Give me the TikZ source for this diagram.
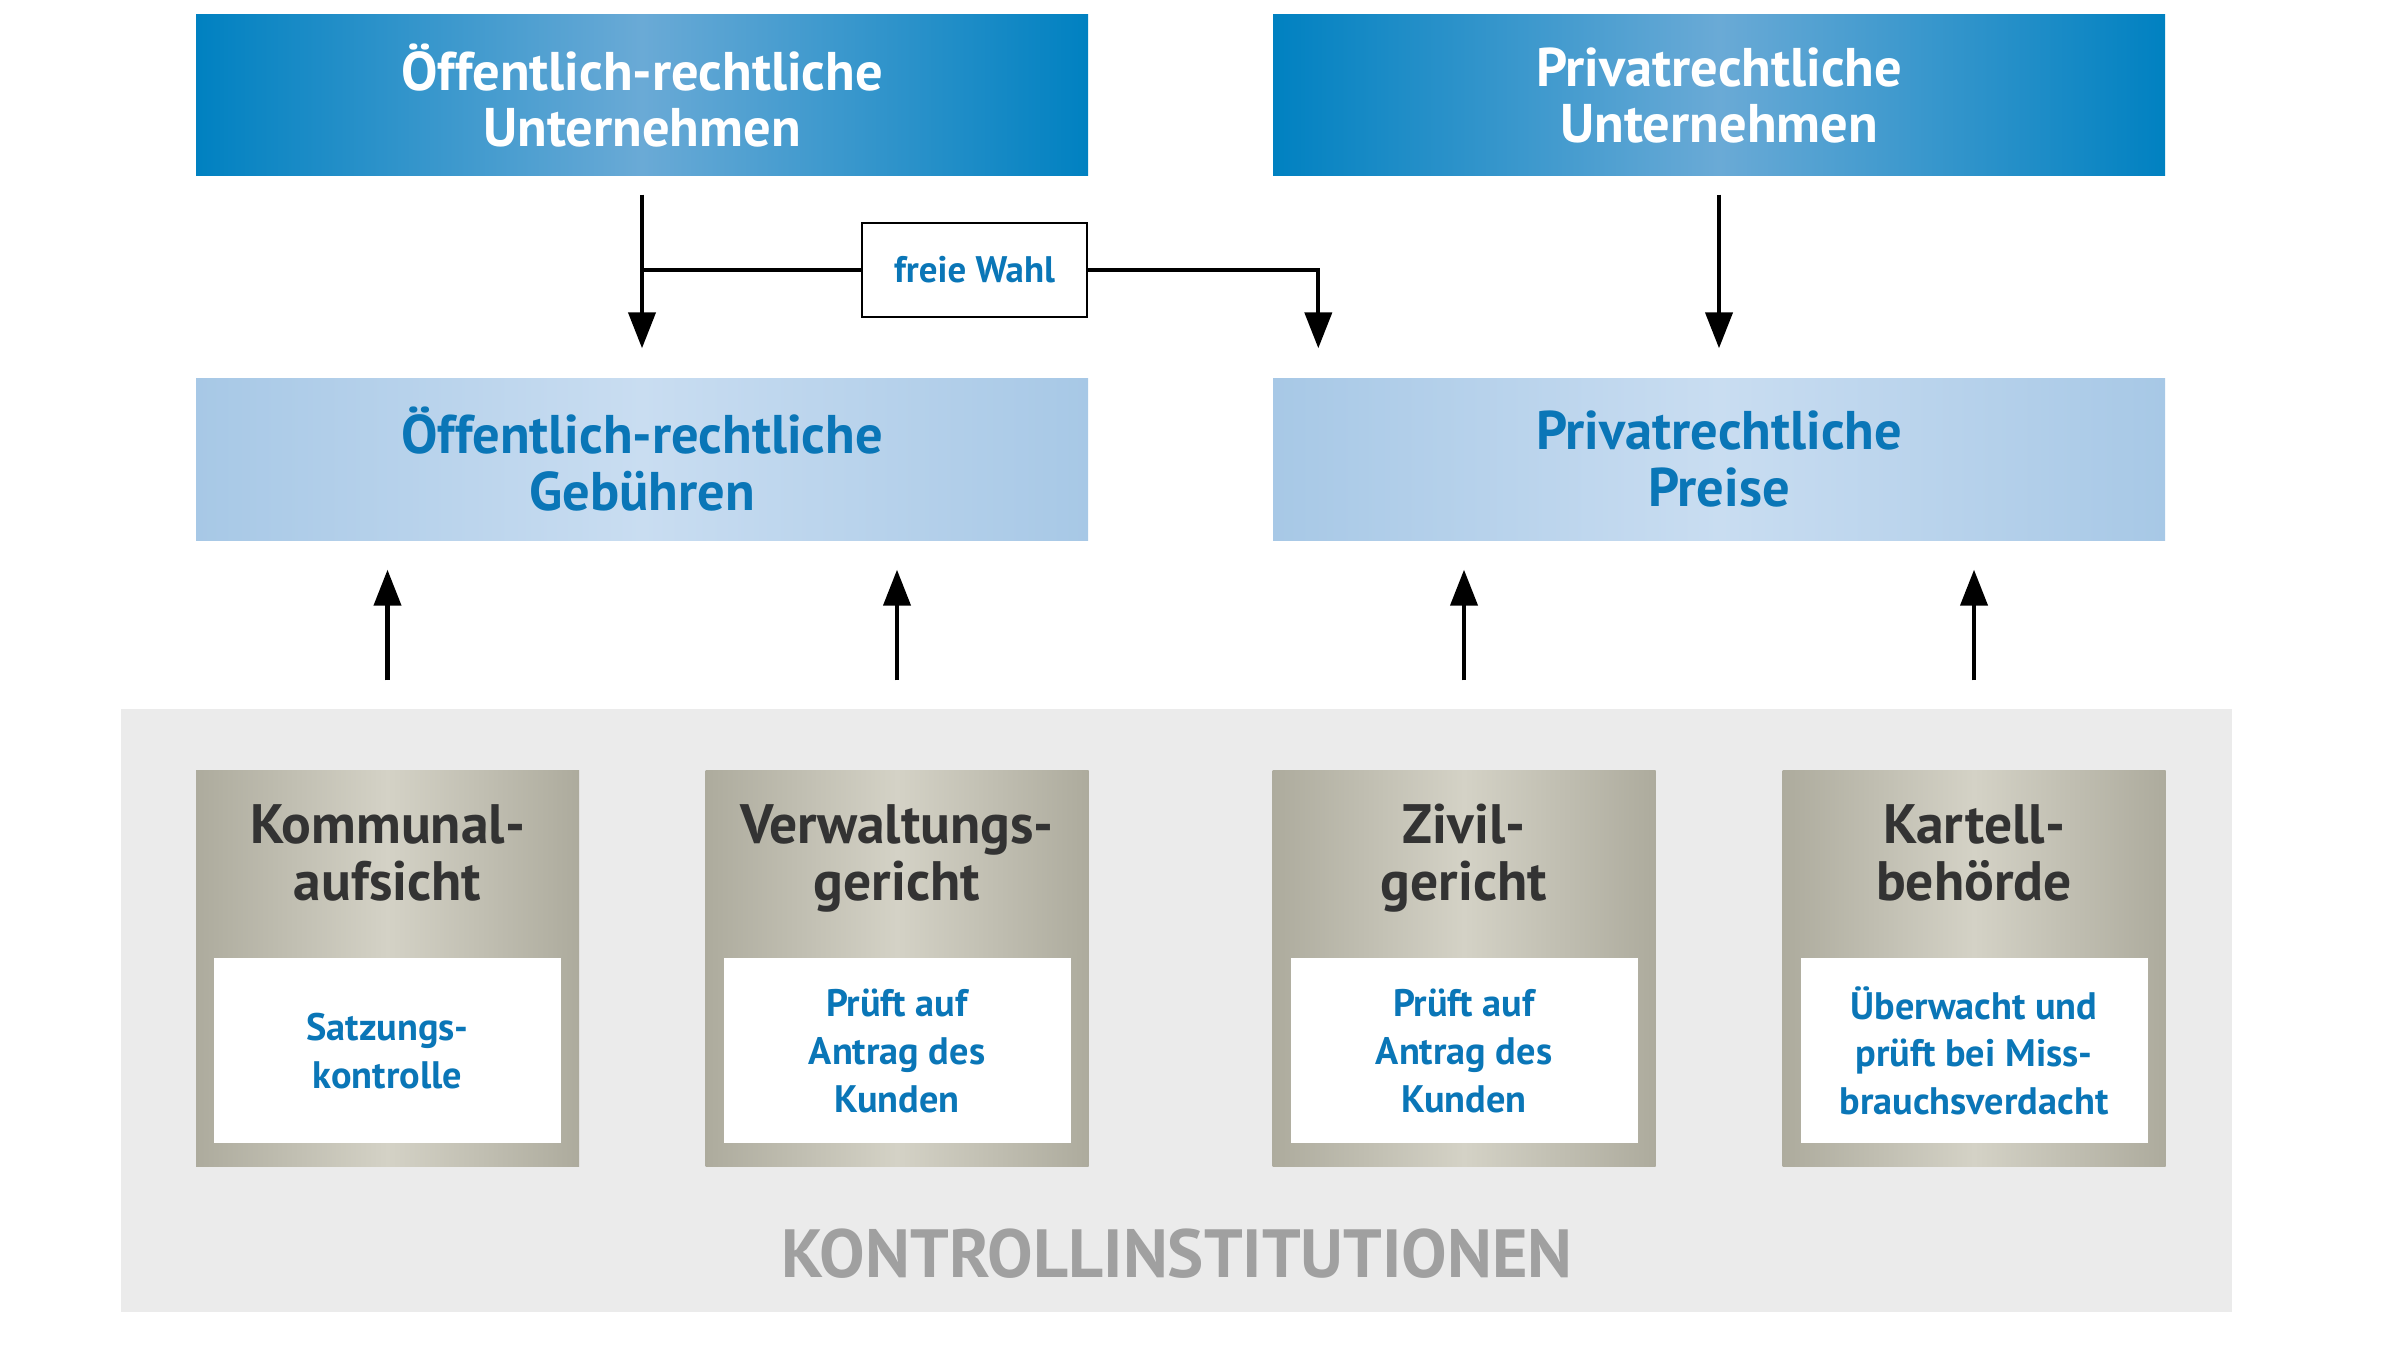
\documentclass[tikz,border=0pt]{standalone}
\usepackage{fontspec}
\setmainfont{PT Sans}
\usetikzlibrary{arrows.meta}
\definecolor{topedge}{HTML}{0081C1}
\definecolor{topmid}{HTML}{6AAAD6}
\definecolor{midedge}{HTML}{A7C8E6}
\definecolor{midmid}{HTML}{C9DDF1}
\definecolor{bluetext}{HTML}{0A76B7}
\definecolor{instedge}{HTML}{ADAB9D}
\definecolor{instmid}{HTML}{D4D2C6}
\definecolor{darktext}{HTML}{333333}
\definecolor{bggrey}{HTML}{EBEBEB}
\definecolor{kontrollgrey}{HTML}{A0A0A0}
\tikzset{
  topbox/.style={minimum width=8.92cm, minimum height=1.61cm, inner sep=0pt, align=center,
    left color=topedge, right color=topedge, middle color=topmid, text=white,
    font=\bfseries\fontsize{15.5}{16}\selectfont},
  midbox/.style={minimum width=8.92cm, minimum height=1.62cm, inner sep=0pt, align=center,
    left color=midedge, right color=midedge, middle color=midmid, text=bluetext,
    font=\bfseries\fontsize{15.5}{16}\selectfont},
  wahlbox/.style={draw=black, line width=0.7pt, fill=white, minimum width=2.25cm, minimum height=0.94cm,
    inner sep=0pt, text=bluetext, font=\bfseries\fontsize{10.5}{13}\selectfont},
  instbox/.style={minimum width=3.83cm, minimum height=3.96cm, inner sep=0pt,
    left color=instedge, right color=instedge, middle color=instmid},
  insttitle/.style={align=center, anchor=base, text=darktext, inner sep=0pt,
    font=\bfseries\fontsize{15.8}{16.2}\selectfont},
  instnote/.style={fill=white, minimum width=3.47cm, minimum height=1.85cm, inner sep=0pt, align=center,
    text=bluetext, font=\bfseries\fontsize{10.9}{13.6}\selectfont},
  kontrolltext/.style={text=kontrollgrey, font=\bfseries\fontsize{19.4}{22}\selectfont},
  connect/.style={draw=black, line width=1.2pt},
  flow/.style={connect, -{Triangle[length=3.6mm, width=2.7mm]}},
}
\begin{document}
\begin{tikzpicture}
\useasboundingbox (0,0) rectangle (24,13.5);
% hintergrund kontrollinstitutionen
\fill[bggrey] (1.21,0.38) rectangle (22.32,6.41);
\node[kontrolltext] (kontroll) at (11.77,0.96) {KONTROLLINSTITUTIONEN};
% unternehmen
\node[topbox] (topoeff) at (6.42,12.545) {Öffentlich-rechtliche\\Unternehmen};
\node[topbox] (toppriv) at (17.19,12.545) {Privatrechtliche\\Unternehmen};
% entgelte
\node[midbox] (midoeff) at (6.42,8.91) {Öffentlich-rechtliche\\Gebühren};
\node[midbox] (midpriv) at (17.19,8.91) {Privatrechtliche\\Preise};
\node[wahlbox] (wahl) at (9.745,10.80) {freie Wahl};
% institutionen
\node[instbox] (kommunal) at (3.875,3.82) {};
\node[insttitle] (kommunaltitel) at ([yshift=-1.31cm]kommunal.north) {Kommunal-\\aufsicht};
\node[instnote] (kommunalnote) at ([yshift=1.16cm]kommunal.south) {Satzungs-\\kontrolle};
\node[instbox] (verwaltung) at (8.97,3.82) {};
\node[insttitle] (verwaltungtitel) at ([yshift=-1.31cm]verwaltung.north) {Verwaltungs-\\gericht};
\node[instnote] (verwaltungnote) at ([yshift=1.16cm]verwaltung.south) {Prüft auf\\Antrag des\\Kunden};
\node[instbox] (zivil) at (14.64,3.82) {};
\node[insttitle] (ziviltitel) at ([yshift=-1.31cm]zivil.north) {Zivil-\\gericht};
\node[instnote] (zivilnote) at ([yshift=1.16cm]zivil.south) {Prüft auf\\Antrag des\\Kunden};
\node[instbox] (kartell) at (19.74,3.82) {};
\node[insttitle] (kartelltitel) at ([yshift=-1.31cm]kartell.north) {Kartell-\\behörde};
\node[instnote] (kartellnote) at ([yshift=1.16cm]kartell.south) {Überwacht und\\prüft bei Miss-\\brauchsverdacht};
% pfeile
\draw[flow, shorten <=0.18cm, shorten >=0.29cm] (topoeff) -- (midoeff);
\draw[flow, shorten <=0.18cm, shorten >=0.29cm] (toppriv) -- (midpriv);
\draw[connect] (wahl) -- (wahl -| topoeff);
\draw[flow, shorten >=0.29cm] (wahl) -| ([xshift=0.46cm]midpriv.north west);
\draw[flow, shorten <=0.89cm, shorten >=0.29cm] (kommunal) -- (kommunal |- midoeff.south);
\draw[flow, shorten <=0.89cm, shorten >=0.29cm] (verwaltung) -- (verwaltung |- midoeff.south);
\draw[flow, shorten <=0.89cm, shorten >=0.29cm] (zivil) -- (zivil |- midpriv.south);
\draw[flow, shorten <=0.89cm, shorten >=0.29cm] (kartell) -- (kartell |- midpriv.south);
\end{tikzpicture}
\end{document}
